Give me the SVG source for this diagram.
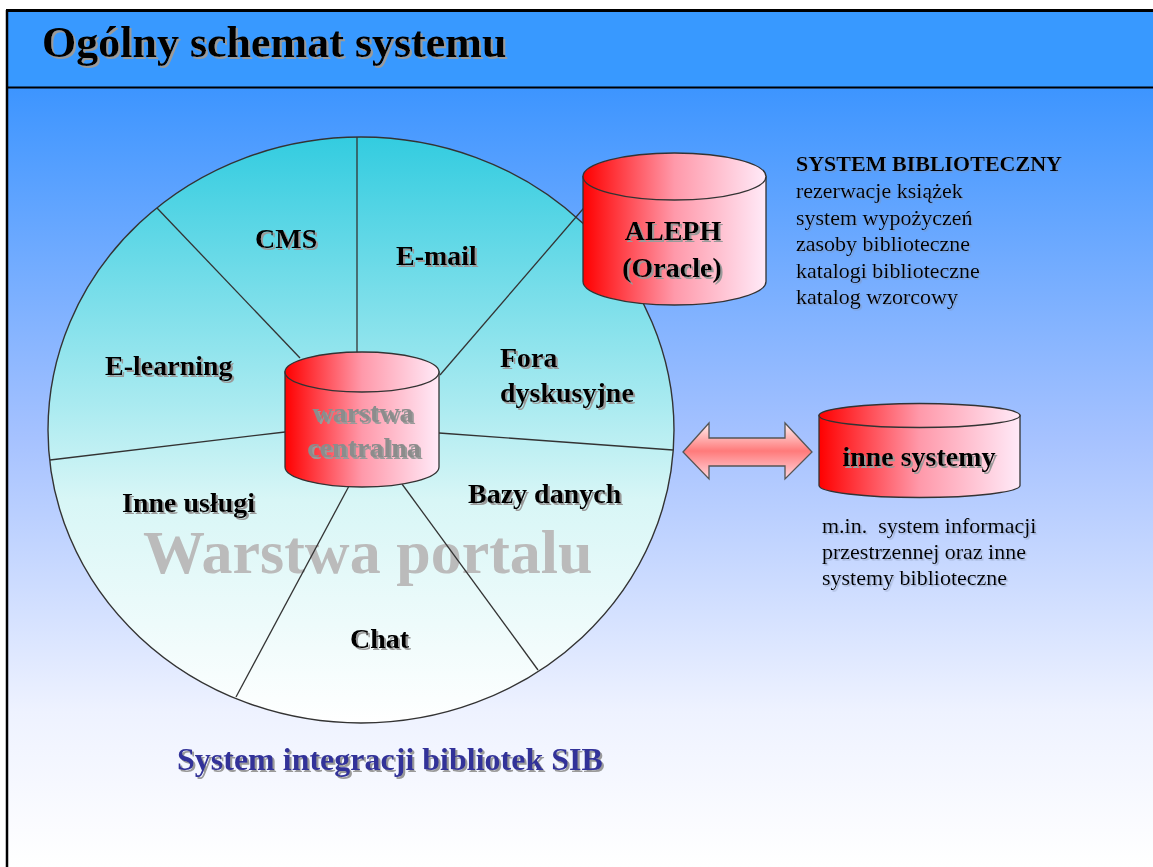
<svg xmlns="http://www.w3.org/2000/svg" width="1153" height="867" viewBox="0 0 1153 867">
<defs>
<linearGradient id="bg" x1="0" y1="88" x2="0" y2="867" gradientUnits="userSpaceOnUse">
<stop offset="0" stop-color="#3D95FF"/>
<stop offset="0.45" stop-color="#A6C2FF"/>
<stop offset="0.8" stop-color="#EEF2FF"/>
<stop offset="1" stop-color="#FFFFFF"/>
</linearGradient>
<linearGradient id="pie" x1="0" y1="0" x2="0" y2="1">
<stop offset="0" stop-color="#33CCE0"/>
<stop offset="0.45" stop-color="#A8EAF0"/>
<stop offset="0.62" stop-color="#D8F6F6"/>
<stop offset="1" stop-color="#FFFFFF"/>
</linearGradient>
<linearGradient id="cyl" x1="0" y1="0" x2="1" y2="0">
<stop offset="0" stop-color="#FF0000"/>
<stop offset="0.5" stop-color="#FF99AA"/>
<stop offset="1" stop-color="#FFEAF8"/>
</linearGradient>
<linearGradient id="arr" x1="0" y1="0" x2="0" y2="1">
<stop offset="0" stop-color="#FFF2F2"/>
<stop offset="0.5" stop-color="#FF7A7A"/>
<stop offset="1" stop-color="#FFD8E0"/>
</linearGradient>
<filter id="sh" x="-5%" y="-10%" width="115%" height="140%">
<feDropShadow dx="2" dy="2" stdDeviation="0" flood-color="#9A9A9A"/>
</filter>
<filter id="shl" x="-5%" y="-10%" width="115%" height="140%">
<feDropShadow dx="1.5" dy="1.5" stdDeviation="0" flood-color="#8090B0" flood-opacity="0.55"/>
</filter>
</defs>
<style>
.b{font-family:"Liberation Serif","Times New Roman",serif;font-weight:bold;font-size:28px;fill:#000;filter:url(#sh)}
.r{font-family:"Liberation Serif","Times New Roman",serif;font-size:22px;fill:#000;filter:url(#shl)}
.cyl{fill:url(#cyl);stroke:#333;stroke-width:1.3}
.sp{stroke:#333;stroke-width:1.3;fill:none}
</style>

<rect x="0" y="0" width="1153" height="867" fill="#FFFFFF"/>
<rect x="7" y="88" width="1146" height="779" fill="url(#bg)"/>
<rect x="7" y="10" width="1146" height="78" fill="#3899FF"/>
<line x1="6" y1="10.5" x2="1153" y2="10.5" stroke="#000" stroke-width="3"/>
<line x1="7" y1="10" x2="7" y2="867" stroke="#000" stroke-width="2.5"/>
<line x1="7" y1="87.5" x2="1153" y2="87.5" stroke="#000" stroke-width="2"/>

<g id="title">
<text x="42" y="57" font-family="Liberation Serif,Times New Roman,serif" font-weight="bold" font-size="44" fill="#000" filter="url(#sh)">Ogólny schemat systemu</text>
</g>

<g id="portal">
<ellipse cx="361" cy="430" rx="313" ry="293" fill="url(#pie)" stroke="#333" stroke-width="1.4"/>
<text x="143" y="573" font-family="Liberation Serif,Times New Roman,serif" font-weight="bold" font-size="62" fill="#BBBBBB">Warstwa portalu</text>
<line class="sp" x1="357" y1="137" x2="357" y2="353"/>
<line class="sp" x1="157" y1="208" x2="300" y2="358"/>
<line class="sp" x1="440" y1="375" x2="595" y2="195"/>
<line class="sp" x1="285" y1="432" x2="50" y2="460"/>
<line class="sp" x1="439" y1="433" x2="673" y2="450"/>
<line class="sp" x1="349" y1="486" x2="236" y2="697"/>
<line class="sp" x1="402" y1="484" x2="538" y2="670"/>
<text class="b" x="255" y="248">CMS</text>
<text class="b" x="396" y="265">E-mail</text>
<text class="b" x="105" y="375">E-learning</text>
<text class="b" x="500" y="367">Fora</text>
<text class="b" x="500" y="402">dyskusyjne</text>
<text class="b" x="468" y="503">Bazy danych</text>
<text class="b" x="122" y="512">Inne usługi</text>
<text class="b" x="350" y="648">Chat</text>
</g>

<g id="warstwa-centralna">
<path class="cyl" d="M285,372 L285,467 A77,20 0 0 0 439,467 L439,372 Z"/>
<ellipse class="cyl" cx="362" cy="372" rx="77" ry="20"/>
<text class="b" x="363" y="422" text-anchor="middle" style="fill:#8C8C8C;filter:url(#sh)">warstwa</text>
<text class="b" x="364" y="457" text-anchor="middle" style="fill:#8C8C8C;filter:url(#sh)">centralna</text>
</g>

<g id="aleph">
<path class="cyl" d="M583,176.5 L583,281.5 A91.5,23.5 0 0 0 766,281.5 L766,176.5 Z"/>
<ellipse class="cyl" cx="674.5" cy="176.5" rx="91.5" ry="23.5"/>
<text class="b" x="673" y="240" text-anchor="middle">ALEPH</text>
<text class="b" x="672" y="277" text-anchor="middle">(Oracle)</text>
</g>

<g id="system-biblioteczny-opis">
<text class="r" x="796" y="171" style="font-weight:bold">SYSTEM BIBLIOTECZNY</text>
<text class="r" x="796" y="198">rezerwacje książek</text>
<text class="r" x="796" y="224.5">system wypożyczeń</text>
<text class="r" x="796" y="251">zasoby biblioteczne</text>
<text class="r" x="796" y="277.5">katalogi biblioteczne</text>
<text class="r" x="796" y="304">katalog wzorcowy</text>
</g>

<g id="inne-systemy">
<path class="cyl" d="M819,415.5 L819,485.5 A100.5,12 0 0 0 1020,485.5 L1020,415.5 Z"/>
<ellipse class="cyl" cx="919.5" cy="415.5" rx="100.5" ry="12"/>
<text class="b" x="919" y="466" text-anchor="middle">inne systemy</text>
</g>

<g id="inne-systemy-opis">
<text class="r" x="822" y="533" xml:space="preserve">m.in.  system informacji</text>
<text class="r" x="822" y="559">przestrzennej oraz inne</text>
<text class="r" x="822" y="585">systemy biblioteczne</text>
</g>

<g id="connectors">
<polygon points="683,452 709,423 709,438 785,438 785,423 812,452 785,479 785,466 709,466 709,479" fill="url(#arr)" stroke="#555" stroke-width="1.3" stroke-linejoin="miter"/>
</g>

<g id="caption">
<text x="177" y="770" font-family="Liberation Serif,Times New Roman,serif" font-weight="bold" font-size="32" fill="#333399" filter="url(#sh)">System integracji bibliotek SIB</text>
</g>
</svg>
